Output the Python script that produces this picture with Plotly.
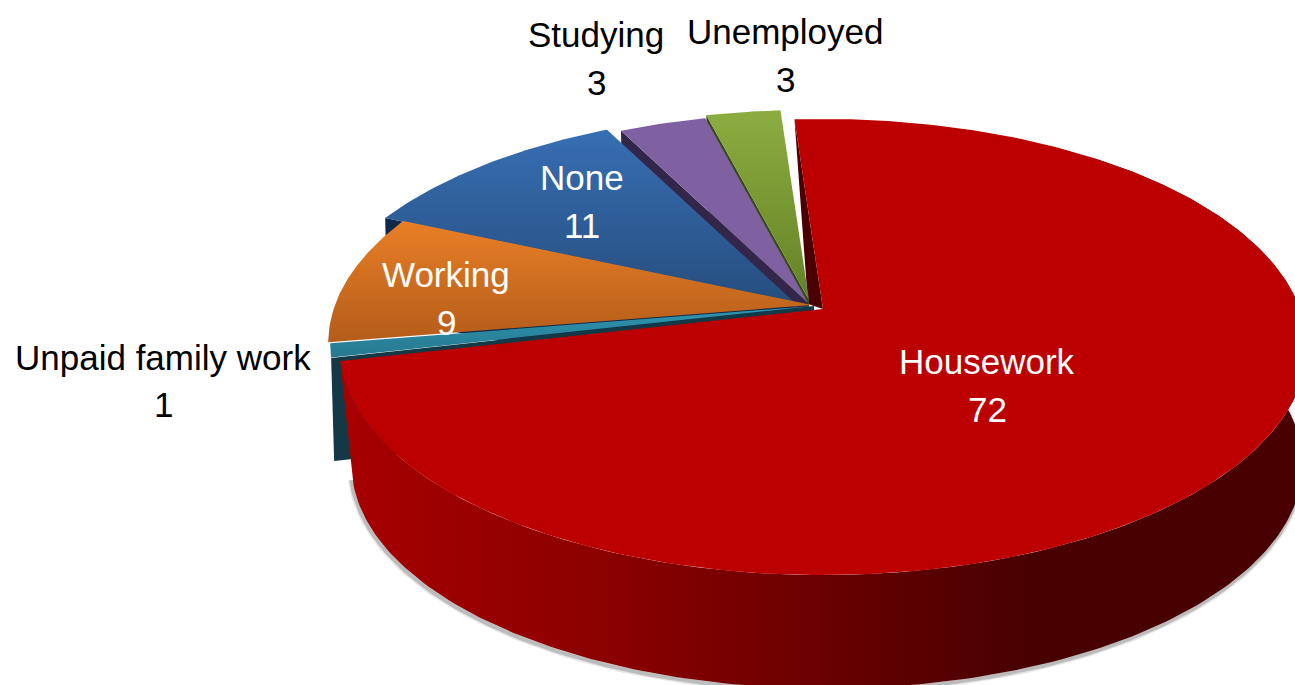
import numpy as np
import plotly.graph_objects as go

# ---- data (percent shares, shown rounded) ----
categories = ["Housework", "Unpaid family work", "Working", "None", "Studying", "Unemployed"]
shares = [72.2, 1.0, 9.2, 10.9, 3.4, 2.9]
tick_labels = ["72", "1", "9", "11", "3", "3"]

# ---- styling / projection ----
W, H = 1295, 685
CX, CY, A, B, K = 823, 309, 477, 221.7, 1 / 6
START = -4.0
offsets = {"Housework": (0, 0), "Unpaid family work": (-9, -3), "Working": (-11, -4),
           "None": (-29, -7), "Studying": (-15, -6), "Unemployed": (-14, -9)}
tops = {"Housework": ("#bc0000", "#bc0000"), "Unpaid family work": ("#2f96b0", "#26788e"),
        "Working": ("#e97f26", "#b35c1a"), "None": ("#376fb3", "#264e7f"),
        "Studying": ("#7f60a0", "#7f60a0"), "Unemployed": ("#8bad40", "#648226")}
walls = {"Unpaid family work": "#123945", "None": "#10294a",
         "Studying": "#33264a", "Unemployed": "#3a4a16"}
label_pos = {"Housework": (987, 361, 409, "white"), "Unpaid family work": (163, 357, 404, "black"),
             "Working": (446, 274, 322, "white"), "None": (582, 177, 225, "white"),
             "Studying": (596, 34, 82, "black"), "Unemployed": (785, 31, 79, "black")}
FONT = "Liberation Sans, Arial, sans-serif"
FONT_SIZE = 35


def project(deg, scale=1.0, dy=0.0, off=(0, 0)):
    t = np.radians(deg)
    u, v = np.sin(t), -np.cos(t)
    d = 1 - K * v
    return CX + off[0] + scale * A * u / d, CY + off[1] + dy + scale * B * v / d


def poly(x, y, color=None, grad=None):
    kw = dict(x=list(x), y=list(y), mode="lines", fill="toself", hoverinfo="skip",
              line=dict(width=0, color="rgba(0,0,0,0)"))
    if grad:
        kw["fillgradient"] = grad
    else:
        kw["fillcolor"] = color
    return go.Scatter(**kw)


def vgrad(c1, c2):
    # the y axis runs downwards, so the scale is given bottom colour first
    return dict(type="vertical", colorscale=[[0, c2], [1, c1]])


# slice angles, clockwise from the top
total = sum(shares)
edges = [START]
for s in shares:
    edges.append(edges[-1] + s / total * 360)
spans = {c: (edges[i], edges[i + 1]) for i, c in enumerate(categories)}

fig = go.Figure()

# inner wall of the big slice, seen through the gap
h0 = spans["Housework"][0]
sx, sy = project(h0)
fig.add_trace(poly([sx, CX, CX - 15, sx], [sy, CY, CY - 5, sy], color="#4a0000"))

# exploded slices, back to front
for c in ["Unemployed", "Studying", "None", "Working", "Unpaid family work"]:
    a0, a1 = spans[c]
    off = offsets[c]
    ax, ay = project(0, 0, 0, off)
    ex, ey = project(a0, off=off)
    if c in walls:
        depth = (3, 103) if c == "Unpaid family work" else (2, 100)
        fig.add_trace(poly([ex, ex + depth[0], ax + depth[0], ax, ex],
                           [ey, ey + depth[1], ay + depth[1], ay, ey], color=walls[c]))
    th = np.linspace(a0, a1, 60)
    px, py = project(th, off=off)
    fig.add_trace(poly(np.r_[ax, px, ax], np.r_[ay, py, ay], grad=vgrad(*tops[c])))

# big slice: outer wall with shadow, then top
a0, a1 = spans["Housework"]
S, DY, BOT = 0.983, 118, (4, 0)
th_wall = np.linspace(40, a1, 220)
tx, ty = project(th_wall)
bx, by = project(th_wall, S, DY, BOT)
for w, col in [(7, "rgba(120,120,120,0.18)"), (4, "rgba(110,110,110,0.35)")]:
    fig.add_trace(go.Scatter(x=bx - 1, y=by + 2, mode="lines", hoverinfo="skip",
                             line=dict(color=col, width=w)))
fig.add_trace(poly(np.r_[tx, bx[::-1]], np.r_[ty, by[::-1]],
                   grad=dict(type="horizontal", start=341, stop=1295,
                             colorscale=[[0, "#a80000"], [0.3, "#880000"], [0.5, "#6a0000"],
                                         [0.72, "#480000"], [1, "#480000"]])))
th = np.linspace(a0, a1, 300)
px, py = project(th)
fig.add_trace(poly(np.r_[CX, px, CX], np.r_[CY, py, CY], color="#bc0000"))

# labels
for c, lab in zip(categories, tick_labels):
    x, y1, y2, col = label_pos[c]
    for txt, y in ((c, y1), (lab, y2)):
        fig.add_annotation(x=x, y=y, text=txt, showarrow=False, xanchor="center",
                           yanchor="middle", font=dict(family=FONT, size=FONT_SIZE, color=col))

fig.update_layout(width=W, height=H, margin=dict(l=0, r=0, t=0, b=0), showlegend=False,
                  paper_bgcolor="white", plot_bgcolor="white",
                  xaxis=dict(range=[0, W], visible=False, fixedrange=True),
                  yaxis=dict(range=[H, 0], visible=False, fixedrange=True))
fig.write_html("out.html", config={"displayModeBar": False},
               post_script="document.body.style.margin='0';document.body.style.overflow='hidden';")
